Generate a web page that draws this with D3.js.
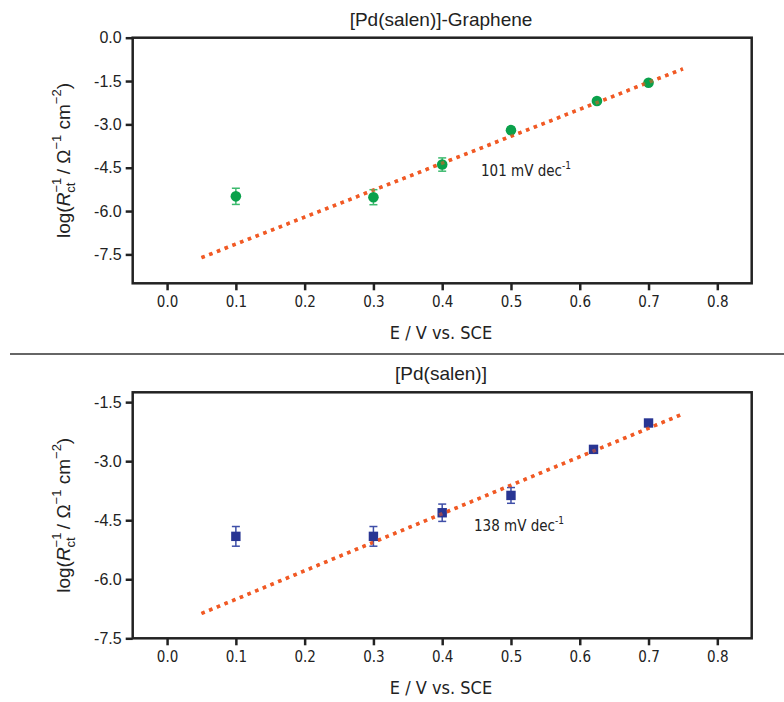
<!DOCTYPE html>
<html>
<head>
<meta charset="utf-8">
<script src="https://cdn.jsdelivr.net/npm/d3@7"></script>
<style>
body { margin: 0; background: #fff; }
svg { display: block; }
</style>
</head>
<body>
<svg id="chart" width="784" height="702"></svg>
<script>
// values
var xTicks = [0.0, 0.1, 0.2, 0.3, 0.4, 0.5, 0.6, 0.7, 0.8];

var topTitle = "[Pd(salen)]-Graphene";
var topE = [0.1, 0.3, 0.4, 0.5, 0.625, 0.7];
var topLog = [-5.49, -5.52, -4.39, -3.20, -2.19, -1.56];
var topErr = [0.28, 0.26, 0.23, 0.10, 0.06, 0.05];
var topFitE = [0.05, 0.75];
var topFitLog = [-7.61, -1.08];
var topYTicks = [0.0, -1.5, -3.0, -4.5, -6.0, -7.5];
var topSlope = "101 mV dec";

var botTitle = "[Pd(salen)]";
var botE = [0.1, 0.3, 0.4, 0.5, 0.62, 0.7];
var botLog = [-4.91, -4.91, -4.31, -3.87, -2.70, -2.03];
var botErr = [0.25, 0.25, 0.22, 0.20, 0.08, 0.0];
var botFitE = [0.05, 0.75];
var botFitLog = [-6.87, -1.80];
var botYTicks = [-1.5, -3.0, -4.5, -6.0, -7.5];
var botSlope = "138 mV dec";

var svg = d3.select("#chart");
var narrow = "'Liberation Sans Narrow', 'DejaVu Sans Condensed', sans-serif";
var sans = "'Liberation Sans', Arial, sans-serif";

function drawPanel(opt) {
    var x = d3.scaleLinear().domain([-0.05, 0.85]).range([132.7, 751.7]);
    var y = d3.scaleLinear().domain(opt.yDomain).range([opt.bottom, opt.top]);
    var g = svg.append("g");

    var xAxis = g.append("g")
        .attr("transform", "translate(0," + opt.bottom + ")")
        .call(d3.axisBottom(x).tickValues(xTicks).tickFormat(d3.format(".1f"))
            .tickSize(7).tickSizeOuter(0).tickPadding(6));
    xAxis.select(".domain").remove();
    xAxis.selectAll("line").attr("stroke", "#222").attr("stroke-width", 2.5);
    xAxis.selectAll("text").attr("fill", "#222").style("font-family", narrow).style("font-size", "15px");

    var yAxis = g.append("g")
        .attr("transform", "translate(132.7,0)")
        .call(d3.axisLeft(y).tickValues(opt.yTicks).tickFormat(d3.format(".1f"))
            .tickSize(7).tickSizeOuter(0).tickPadding(4));
    yAxis.select(".domain").remove();
    yAxis.selectAll("line").attr("stroke", "#222").attr("stroke-width", 2.5);
    yAxis.selectAll("text").attr("fill", "#222").style("font-family", sans).style("font-size", "16px")
        .text(function(d) { return d3.format(".1f")(d).replace("\u2212", "-"); });

    // frame
    g.append("rect")
        .attr("x", x.range()[0]).attr("y", opt.top)
        .attr("width", x.range()[1] - x.range()[0]).attr("height", opt.bottom - opt.top)
        .attr("fill", "none").attr("stroke", "#222").attr("stroke-width", 2.5);

    // fit line
    var fit = opt.fitE.map(function(e, i) { return [e, opt.fitLog[i]]; });
    g.append("path")
        .datum(fit)
        .attr("d", d3.line().x(function(d) { return x(d[0]); }).y(function(d) { return y(d[1]); }))
        .attr("fill", "none").attr("stroke", "#f15a24").attr("stroke-width", 3.5)
        .attr("stroke-dasharray", "3.5,4.8");

    var pts = opt.e.map(function(e, i) { return { e: e, v: opt.log[i], err: opt.err[i] }; });

    // error bars
    var eb = g.selectAll(".eb").data(pts.filter(function(d) { return d.err > 0; }))
        .enter().append("g").attr("class", "eb")
        .attr("stroke", opt.errColor).attr("stroke-width", 1.5);
    eb.append("line")
        .attr("x1", function(d) { return x(d.e); }).attr("x2", function(d) { return x(d.e); })
        .attr("y1", function(d) { return y(d.v + d.err); }).attr("y2", function(d) { return y(d.v - d.err); });
    eb.append("line")
        .attr("x1", function(d) { return x(d.e) - 4; }).attr("x2", function(d) { return x(d.e) + 4; })
        .attr("y1", function(d) { return y(d.v + d.err); }).attr("y2", function(d) { return y(d.v + d.err); });
    eb.append("line")
        .attr("x1", function(d) { return x(d.e) - 4; }).attr("x2", function(d) { return x(d.e) + 4; })
        .attr("y1", function(d) { return y(d.v - d.err); }).attr("y2", function(d) { return y(d.v - d.err); });

    if (opt.marker == "circle") {
        g.selectAll(".pt").data(pts).enter().append("circle")
            .attr("cx", function(d) { return x(d.e); })
            .attr("cy", function(d) { return y(d.v); })
            .attr("r", 5.3).attr("fill", opt.color);
    } else {
        g.selectAll(".pt").data(pts).enter().append("rect")
            .attr("x", function(d) { return x(d.e) - 4.7; })
            .attr("y", function(d) { return y(d.v) - 4.7; })
            .attr("width", 9.4).attr("height", 9.4).attr("fill", opt.color);
    }

    // the fit line shows through the points a little
    g.append("path")
        .datum(fit)
        .attr("d", d3.line().x(function(d) { return x(d[0]); }).y(function(d) { return y(d[1]); }))
        .attr("fill", "none").attr("stroke", "#f15a24").attr("stroke-width", 3.5)
        .attr("stroke-dasharray", "3.5,4.8").attr("opacity", 0.55);

    // title
    g.append("text")
        .attr("x", 441).attr("y", opt.top - 12)
        .attr("text-anchor", "middle").attr("fill", "#222")
        .style("font-family", sans).style("font-size", "19px")
        .text(opt.title);

    // slope label
    var s = g.append("text")
        .attr("x", opt.slopeX).attr("y", opt.slopeY).attr("fill", "#222")
        .style("font-family", narrow).style("font-size", "15px");
    s.append("tspan").text(opt.slope);
    s.append("tspan").attr("dy", -7).style("font-size", "10px").text("-1");

    // x title
    g.append("text")
        .attr("x", 441).attr("y", opt.bottom + 56)
        .attr("text-anchor", "middle").attr("fill", "#222")
        .style("font-family", narrow).style("font-size", "18px")
        .text("E / V vs. SCE");

    // y title
    var yt = g.append("text")
        .attr("transform", "translate(70," + (opt.top + opt.bottom) / 2 + ") rotate(-90)")
        .attr("text-anchor", "middle").attr("fill", "#222")
        .style("font-family", sans).style("font-size", "19px");
    yt.append("tspan").text("log(");
    yt.append("tspan").style("font-style", "italic").text("R");
    yt.append("tspan").attr("dy", -9).style("font-size", "13px").text("\u22121");
    yt.append("tspan").attr("dx", -15).attr("dy", 14).style("font-size", "13px").text("ct");
    yt.append("tspan").attr("dx", 3).attr("dy", -5).text(" / \u03a9");
    yt.append("tspan").attr("dy", -9).style("font-size", "13px").text("\u22121");
    yt.append("tspan").attr("dy", 9).text("  cm");
    yt.append("tspan").attr("dy", -9).style("font-size", "13px").text("\u22122");
    yt.append("tspan").attr("dy", 9).text(")");
}

drawPanel({
    top: 37.7, bottom: 283.3, yDomain: [-8.5, 0], yTicks: topYTicks,
    e: topE, log: topLog, err: topErr, fitE: topFitE, fitLog: topFitLog,
    marker: "circle", color: "#0aa14b", errColor: "#3dba6e",
    title: topTitle, slope: topSlope, slopeX: 481, slopeY: 176
});

drawPanel({
    top: 392.3, bottom: 638.3, yDomain: [-7.5, -1.25], yTicks: botYTicks,
    e: botE, log: botLog, err: botErr, fitE: botFitE, fitLog: botFitLog,
    marker: "square", color: "#283593", errColor: "#3f4fa8",
    title: botTitle, slope: botSlope, slopeX: 474, slopeY: 531
});

// separator between the two panels
svg.append("line")
    .attr("x1", 10).attr("x2", 784).attr("y1", 354).attr("y2", 354)
    .attr("stroke", "#333").attr("stroke-width", 1.5);
</script>
</body>
</html>
